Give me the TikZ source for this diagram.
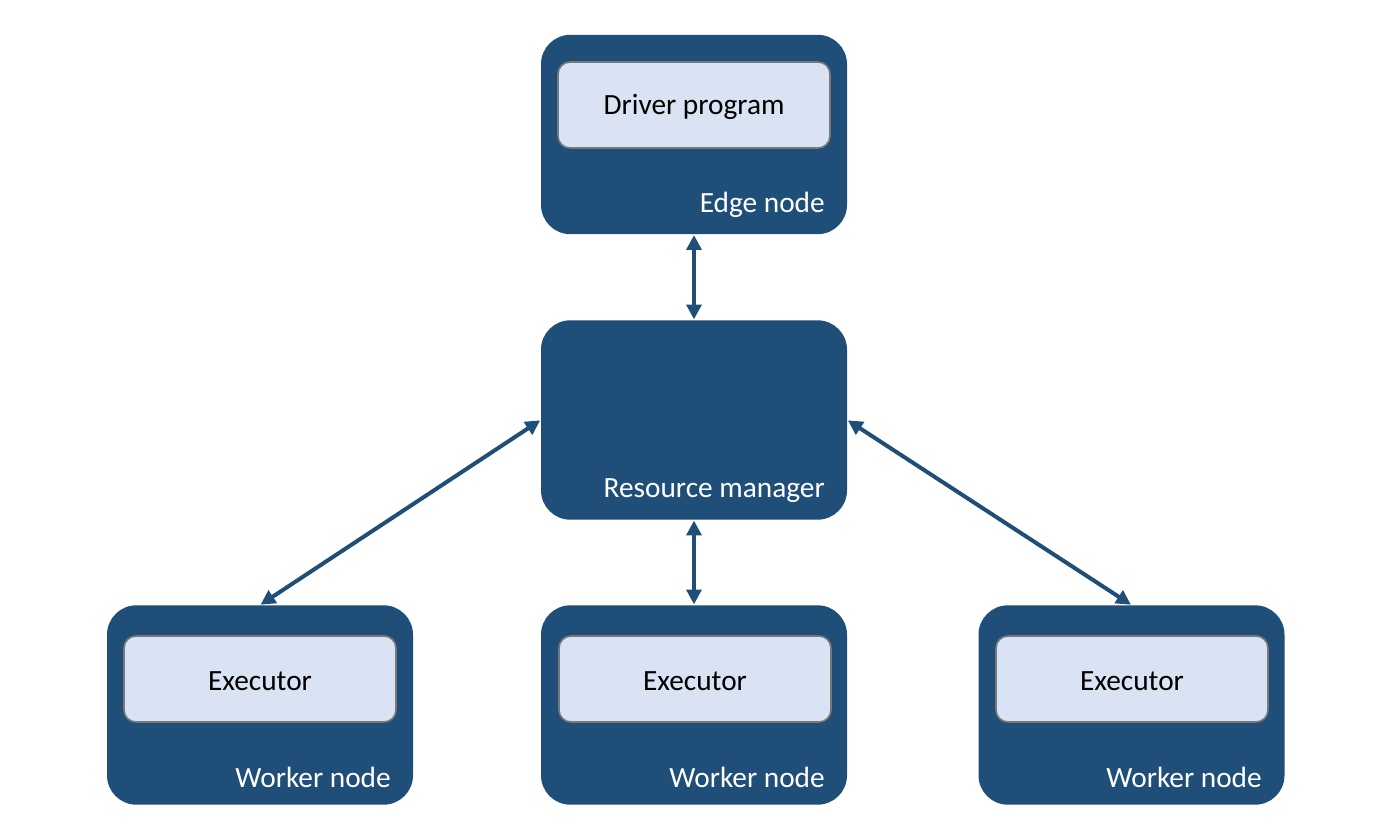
\documentclass[tikz,border=0pt]{standalone}
\usepackage{fontspec}
\setmainfont{Carlito}
\usetikzlibrary{arrows.meta}
\definecolor{dblue}{RGB}{31,78,121}
\definecolor{lblue}{RGB}{218,227,243}
\definecolor{gborder}{RGB}{120,120,120}
\begin{document}
\begin{tikzpicture}[x=0.75pt,y=-0.75pt,
  outerbox/.style={draw=none,fill=dblue,rounded corners=22pt,minimum width=229.5pt,minimum height=149.5pt,inner sep=0pt},
  innerbox/.style={draw=gborder,line width=1.2pt,fill=lblue,rounded corners=9pt,minimum width=204pt,minimum height=64.5pt,inner sep=0pt,text=black},
  txt/.style={font=\fontsize{22}{24}\selectfont},
  boxlabel/.style={anchor=east,text=white,font=\fontsize{22}{24}\selectfont,inner sep=0pt},
  conn/.style={draw=dblue,line width=3pt,{Triangle[length=11pt,width=11pt]}-{Triangle[length=11pt,width=11pt]},shorten <=0.5pt,shorten >=0.5pt}]
\useasboundingbox[fill=white] (0,0) rectangle (1396,831);
% outer boxes
\node[outerbox] (edge) at (694,134.5) {};
\node[outerbox] (rm) at (694,420) {};
\node[outerbox] (w1) at (260,705) {};
\node[outerbox] (w2) at (694,705) {};
\node[outerbox] (w3) at (1131.5,705) {};
% inner boxes
\node[innerbox] (drv) at (694,105) {};
\node[innerbox] (ex1) at (260,679) {};
\node[innerbox] (ex2) at (695,679) {};
\node[innerbox] (ex3) at (1132,679) {};
\node[txt] (drvt) at (694,107) {Driver program};
\node[txt] (ex1t) at (260,681) {Executor};
\node[txt] (ex2t) at (695,681) {Executor};
\node[txt] (ex3t) at (1132,681) {Executor};
% labels
\node[boxlabel] (edgelbl) at (825,205) {Edge node};
\node[boxlabel] (rmlbl) at (825,491) {Resource manager};
\node[boxlabel] (w1lbl) at (391,777) {Worker node};
\node[boxlabel] (w2lbl) at (825,777) {Worker node};
\node[boxlabel] (w3lbl) at (1262,777) {Worker node};
% connectors
\draw[conn] (edge.south) -- (rm.north);
\draw[conn] (rm.south) -- (w2.north);
\draw[conn] (rm.west) -- (w1.north);
\draw[conn] (rm.east) -- (w3.north);
\end{tikzpicture}
\end{document}
